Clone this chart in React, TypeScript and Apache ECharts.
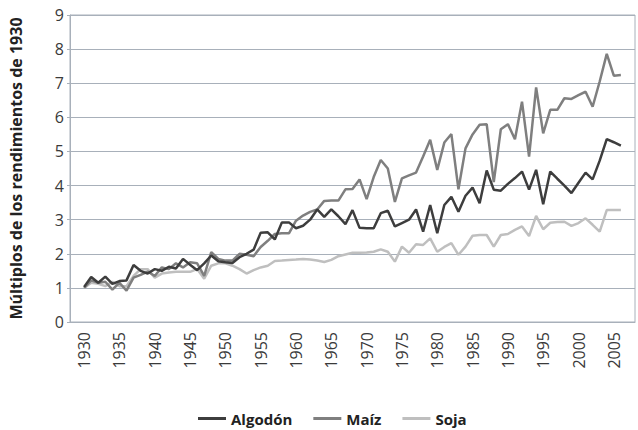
import React, { useEffect, useRef } from "react";
import * as echarts from "echarts";

const years = [
  1930, 1931, 1932, 1933, 1934, 1935, 1936, 1937, 1938, 1939,
  1940, 1941, 1942, 1943, 1944, 1945, 1946, 1947, 1948, 1949,
  1950, 1951, 1952, 1953, 1954, 1955, 1956, 1957, 1958, 1959,
  1960, 1961, 1962, 1963, 1964, 1965, 1966, 1967, 1968, 1969,
  1970, 1971, 1972, 1973, 1974, 1975, 1976, 1977, 1978, 1979,
  1980, 1981, 1982, 1983, 1984, 1985, 1986, 1987, 1988, 1989,
  1990, 1991, 1992, 1993, 1994, 1995, 1996, 1997, 1998, 1999,
  2000, 2001, 2002, 2003, 2004, 2005, 2006,
];

const algodon = [
  1.03, 1.32, 1.15, 1.33, 1.12, 1.2, 1.22, 1.67, 1.5, 1.42,
  1.55, 1.5, 1.62, 1.57, 1.85, 1.68, 1.52, 1.72, 1.95, 1.78,
  1.75, 1.73, 1.9, 2.0, 2.12, 2.62, 2.63, 2.42, 2.92, 2.92,
  2.75, 2.82, 3.0, 3.3, 3.08, 3.3, 3.1, 2.87, 3.28, 2.76,
  2.75, 2.75, 3.19, 3.26, 2.8, 2.9, 3.0, 3.3, 2.65, 3.43,
  2.6, 3.43, 3.67, 3.23, 3.7, 3.94, 3.48, 4.44, 3.88, 3.85,
  4.05, 4.22, 4.41, 3.88, 4.46, 3.45, 4.41, 4.2, 4.0, 3.78,
  4.08, 4.38, 4.18, 4.73, 5.36, 5.27, 5.17,
];

const maiz = [
  1.0, 1.22, 1.15, 1.18, 0.95, 1.15, 0.92, 1.3, 1.38, 1.48,
  1.35, 1.6, 1.55, 1.72, 1.6, 1.75, 1.72, 1.35, 2.05, 1.85,
  1.8, 1.8, 2.0, 1.97, 1.93, 2.2, 2.38, 2.58, 2.6, 2.6,
  2.97, 3.12, 3.23, 3.3, 3.55, 3.56, 3.56, 3.89, 3.9, 4.18,
  3.6, 4.25, 4.75, 4.5, 3.52, 4.21, 4.3, 4.38, 4.85, 5.34,
  4.46, 5.26, 5.51, 3.89, 5.09, 5.5, 5.78, 5.8, 4.1, 5.65,
  5.8, 5.36, 6.46, 4.85, 6.88, 5.53, 6.22, 6.22, 6.56, 6.54,
  6.65, 6.75, 6.31, 7.05, 7.86, 7.22, 7.24,
];

const soja = [
  1.0, 1.15, 1.12, 1.05, 1.18, 1.05, 1.05, 1.35, 1.55, 1.55,
  1.3, 1.42, 1.45, 1.47, 1.47, 1.47, 1.55, 1.27, 1.65, 1.72,
  1.72, 1.65, 1.55, 1.42, 1.52, 1.6, 1.65, 1.79, 1.8, 1.82,
  1.83, 1.85, 1.83, 1.8, 1.76, 1.82, 1.93, 1.98, 2.03, 2.03,
  2.04, 2.06, 2.13, 2.06, 1.77, 2.21, 2.03, 2.28, 2.26, 2.45,
  2.06, 2.2, 2.31, 1.97, 2.21, 2.53, 2.55, 2.55, 2.21, 2.55,
  2.58, 2.7, 2.8, 2.52, 3.11, 2.72, 2.91, 2.93, 2.94, 2.82,
  2.9, 3.04, 2.85, 2.65, 3.28, 3.28, 3.28,
];

const xTickLabels = [1930, 1935, 1940, 1945, 1950, 1955, 1960, 1965, 1970, 1975, 1980, 1985, 1990, 1995, 2000, 2005];
const seriesNames = ["Algodón", "Maíz", "Soja"];
const seriesColors = ["#3d3d3d", "#7f7f7f", "#bfbfbf"];
const yTitle = "Múltiplos de los rendimientos de 1930";

const FONT = "'Open Sans', 'Noto Sans', sans-serif";

export default function App() {
  const ref = useRef<HTMLDivElement>(null);
  useEffect(() => {
    if (!ref.current) return;
    const chart = echarts.init(ref.current, undefined, { renderer: "svg" });
    const toPairs = (vals: number[]) => years.map((y, i) => [y, vals[i]]);
    const all = [algodon, maiz, soja];
    chart.setOption({
      animation: false,
      backgroundColor: "#ffffff",
      grid: {
        left: 68,
        right: 3,
        top: 15,
        bottom: 108,
        show: true,
        borderColor: "#a8b0ba",
        borderWidth: 1,
      },
      legend: {
        left: 193,
        top: 406,
        itemWidth: 28,
        itemHeight: 3,
        itemGap: 21,
        icon: "rect",
        textStyle: { fontFamily: FONT, fontWeight: "bold", fontSize: 15, color: "#222" },
        data: seriesNames,
      },
      xAxis: {
        type: "value",
        min: 1928,
        max: 2008,
        splitLine: { show: false },
        axisLine: { show: true, lineStyle: { color: "#a8b0ba" } },
        axisTick: { show: false },
        axisLabel: {
          customValues: xTickLabels,
          rotate: 90,
          margin: 10,
          fontFamily: FONT,
          fontSize: 16,
          color: "#3a3a3a",
          formatter: (v: number) => String(v),
        },
      },
      yAxis: {
        type: "value",
        min: 0,
        max: 9,
        interval: 1,
        name: yTitle,
        nameLocation: "middle",
        nameRotate: 90,
        nameGap: 46,
        nameTextStyle: { fontFamily: FONT, fontWeight: "bold", fontSize: 16, color: "#222" },
        splitLine: { show: true, lineStyle: { color: "#a8b0ba", width: 1 } },
        axisLine: { show: true, lineStyle: { color: "#a8b0ba" } },
        axisTick: { show: true, length: 3, lineStyle: { color: "#a8b0ba" } },
        axisLabel: { fontFamily: FONT, fontSize: 16, color: "#3a3a3a", margin: 6 },
      },
      series: seriesNames.map((name, k) => ({
        name,
        type: "line",
        data: toPairs(all[k]),
        symbol: "none",
        lineStyle: { color: seriesColors[k], width: 2.5 },
        itemStyle: { color: seriesColors[k] },
        z: 3 - k,
      })),
    });
    return () => chart.dispose();
  }, []);
  return (
    <div
      ref={ref}
      style={{ position: "absolute", left: 0, top: 0, width: 638, height: 430 }}
    />
  );
}
